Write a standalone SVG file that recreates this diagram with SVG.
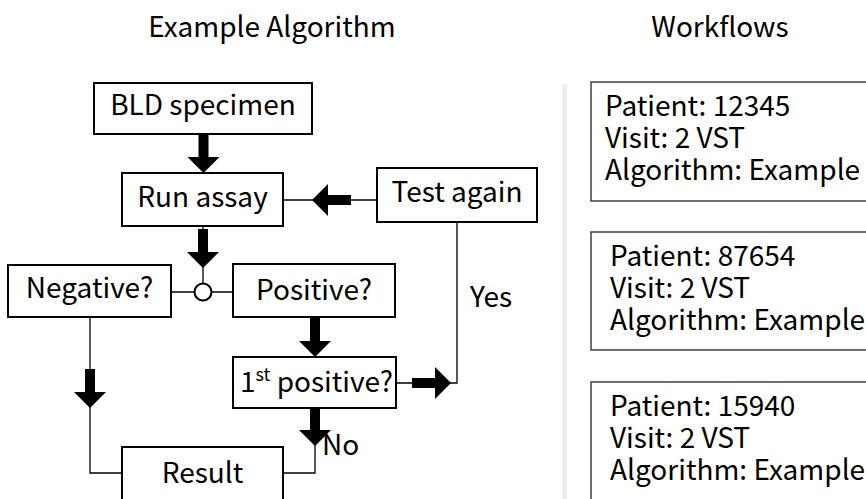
<svg xmlns="http://www.w3.org/2000/svg" width="866" height="499" viewBox="0 0 866 499">
<style>
text{font-family:"Noto Sans CJK JP","Noto Sans CJK SC","Source Sans Pro","Liberation Sans",sans-serif;fill:#000;}
.t{font-size:28px;text-anchor:middle;}
.ttl{font-size:28px;text-anchor:middle;}
.wf{font-size:28px;}
.box{fill:#fff;stroke:#000;stroke-width:2;}
.wbox{fill:#fff;stroke:#333;stroke-width:1.4;}
.ln{fill:none;stroke:#000;stroke-width:1.3;}
.arr{fill:#000;}
</style>
<defs>
<path id="blk" d="M-5,-39 H5 V-16 H16 L0,0 L-16,-16 H-5 Z"/>
</defs>
<rect width="866" height="499" fill="#fff"/>
<text class="ttl" x="272" y="37">Example Algorithm</text>
<text class="ttl" x="720" y="37">Workflows</text>
<rect x="562" y="84" width="5" height="420" fill="#eeeeee"/>
<g id="connectors">
<line class="ln" x1="283" y1="200" x2="376" y2="200"/>
<polyline class="ln" points="457,222 457,383 396,383"/>
<line class="ln" x1="203" y1="226" x2="203" y2="284"/>
<line class="ln" x1="171" y1="292" x2="233" y2="292"/>
<polyline class="ln" points="90,317 90,473 122,473"/>
<polyline class="ln" points="315,408 315,473 283,473"/>
<use href="#blk" class="arr" transform="translate(203.5,173)"/>
<use href="#blk" class="arr" transform="translate(203,268)"/>
<use href="#blk" class="arr" transform="translate(315,357)"/>
<use href="#blk" class="arr" transform="translate(315,446)"/>
<use href="#blk" class="arr" transform="translate(90,408)"/>
<use href="#blk" class="arr" transform="translate(312,200) rotate(90)"/>
<use href="#blk" class="arr" transform="translate(451,383) rotate(-90)"/>
<circle cx="203" cy="292" r="8.5" fill="#fff" stroke="#000" stroke-width="2"/>
<text class="wf" x="470" y="307">Yes</text>
<text class="wf" x="322" y="455">No</text>
</g>
<g id="bld"><rect class="box" x="94" y="83" width="218" height="51"/><text class="t" x="203" y="115">BLD specimen</text></g>
<g id="run"><rect class="box" x="122" y="173" width="161" height="53"/><text class="t" x="202.5" y="207">Run assay</text></g>
<g id="testagain"><rect class="box" x="377" y="168" width="160" height="54"/><text class="t" x="457" y="202">Test again</text></g>
<g id="negative"><rect class="box" x="8" y="265" width="163" height="52"/><text class="t" x="89.5" y="298">Negative?</text></g>
<g id="positive"><rect class="box" x="233" y="264" width="162" height="53"/><text class="t" x="314" y="300">Positive?</text></g>
<g id="first"><rect class="box" x="233" y="357" width="163" height="51"/><text class="wf" x="240" y="392">1<tspan font-size="18" dy="-11">st</tspan><tspan dy="11"> positive?</tspan></text></g>
<g id="result"><rect class="box" x="122" y="447" width="161" height="62"/><text class="t" x="202.5" y="483">Result</text></g>
<g id="wf1"><rect class="wbox" x="591" y="82" width="290" height="119"/><text class="wf" x="605" y="116">Patient: 12345</text><text class="wf" x="605" y="148">Visit: 2 VST</text><text class="wf" x="605" y="180">Algorithm: Example</text></g>
<g id="wf2"><rect class="wbox" x="591" y="232" width="290" height="118"/><text class="wf" x="610" y="266">Patient: 87654</text><text class="wf" x="610" y="298">Visit: 2 VST</text><text class="wf" x="610" y="330">Algorithm: Example</text></g>
<g id="wf3"><rect class="wbox" x="591" y="382" width="290" height="130"/><text class="wf" x="610" y="416">Patient: 15940</text><text class="wf" x="610" y="448">Visit: 2 VST</text><text class="wf" x="610" y="480">Algorithm: Example</text></g>
</svg>
